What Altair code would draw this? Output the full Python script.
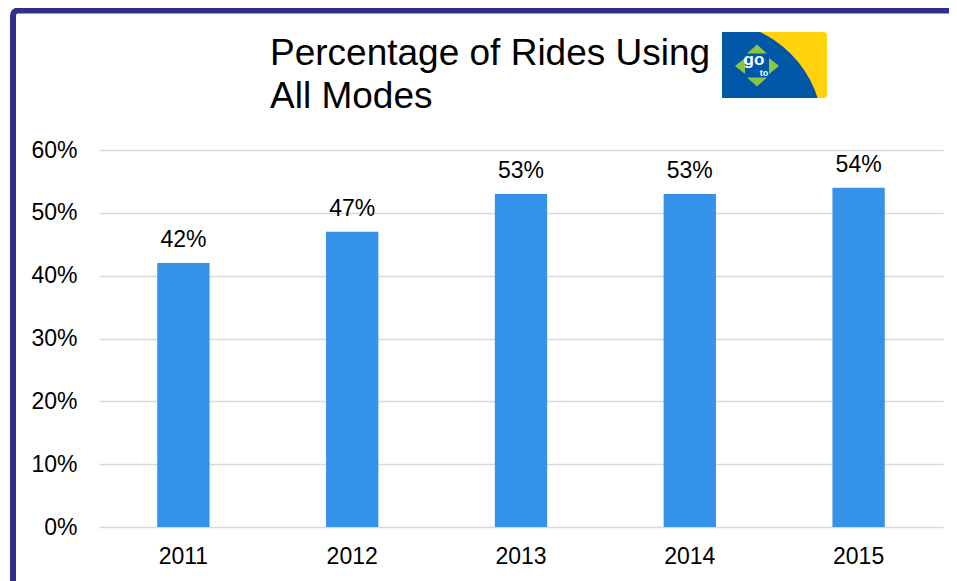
import altair as alt
import pandas as pd

years = ["2011", "2012", "2013", "2014", "2015"]
shares = [0.42, 0.47, 0.53, 0.53, 0.54]
bar_labels = ["42%", "47%", "53%", "53%", "54%"]
y_tick_values = [0.0, 0.1, 0.2, 0.3, 0.4, 0.5, 0.6]
title_lines = ["Percentage of Rides Using", "All Modes"]

FONT = "Liberation Sans"
W, H = 844, 377

df = pd.DataFrame({"year": years, "share": shares, "label": bar_labels})
one = pd.DataFrame({"k": [0]})

x_enc = alt.X(
    "year:N",
    sort=years,
    scale=alt.Scale(paddingInner=0.69, paddingOuter=0.345),
    axis=alt.Axis(title=None, labelAngle=0, labelFontSize=23, labelFont=FONT,
                  labelColor="black", labelPadding=18, ticks=False, domain=False,
                  grid=False),
)
y_enc = alt.Y(
    "share:Q",
    scale=alt.Scale(domain=[0, 0.6], nice=False),
    axis=alt.Axis(title=None, values=y_tick_values, format=".0%", labelFontSize=23,
                  labelFont=FONT, labelColor="black", labelPadding=22, ticks=False,
                  domain=False, grid=True, gridColor="#D9D9D9", gridWidth=1.5),
)

base = alt.Chart(df)
bars = base.mark_bar(color="#3492E8").encode(x=x_enc, y=y_enc)
texts = base.mark_text(dy=-16, baseline="alphabetic", fontSize=23, font=FONT,
                       color="black").encode(x=x_enc, y=y_enc, text="label:N")

# decorations
border = alt.Chart(one).mark_rect(fillOpacity=0, stroke="#2D3091", strokeWidth=6,
                                  cornerRadius=5).encode(
    x=alt.value(-86), x2=alt.value(1400), y=alt.value(-139.5), y2=alt.value(1000))

card = alt.Chart(one).mark_rect(color="#FFD20A", cornerRadius=3).encode(
    x=alt.value(623), x2=alt.value(728), y=alt.value(-118), y2=alt.value(-52))
blue = alt.Chart(one).mark_arc(color="#0057A8", theta=0, theta2=1.5708,
                               radius=111).encode(x=alt.value(613), y=alt.value(-18))
cover1 = alt.Chart(one).mark_rect(color="white").encode(
    x=alt.value(590), x2=alt.value(745), y=alt.value(-136), y2=alt.value(-118))
cover2 = alt.Chart(one).mark_rect(color="white").encode(
    x=alt.value(590), x2=alt.value(623), y=alt.value(-136), y2=alt.value(-8))
cover3 = alt.Chart(one).mark_rect(color="white").encode(
    x=alt.value(590), x2=alt.value(745), y=alt.value(-52), y2=alt.value(-8))

green = "#8CC63F"
tri_up = alt.Chart(one).mark_point(shape="M -1 0.45 L 0 -0.45 L 1 0.45 Z", filled=True,
                                   size=400, color=green, opacity=1).encode(
    x=alt.value(658), y=alt.value(-101))
tri_down = alt.Chart(one).mark_point(shape="M -1 -0.45 L 0 0.45 L 1 -0.45 Z", filled=True,
                                     size=400, color=green, opacity=1).encode(
    x=alt.value(658), y=alt.value(-68))
tri_left = alt.Chart(one).mark_point(shape="M 0.5 -0.8 L -0.5 0 L 0.5 0.8 Z", filled=True,
                                     size=400, color=green, opacity=1).encode(
    x=alt.value(641), y=alt.value(-84))
tri_right = alt.Chart(one).mark_point(shape="M -0.5 -0.8 L 0.5 0 L -0.5 0.8 Z", filled=True,
                                      size=400, color=green, opacity=1).encode(
    x=alt.value(675), y=alt.value(-84))
go_txt = alt.Chart(one).mark_text(text="go", font=FONT, fontSize=17, fontWeight="bold",
                                  color="white", baseline="alphabetic", align="center").encode(
    x=alt.value(655), y=alt.value(-85))
to_txt = alt.Chart(one).mark_text(text="to", font=FONT, fontSize=9, fontWeight="bold",
                                  color="white", baseline="alphabetic", align="center").encode(
    x=alt.value(665), y=alt.value(-74))

title1 = alt.Chart(one).mark_text(text=title_lines[0], font=FONT, fontSize=37, color="black",
                                  align="left", baseline="alphabetic").encode(
    x=alt.value(171), y=alt.value(-85))
title2 = alt.Chart(one).mark_text(text=title_lines[1], font=FONT, fontSize=37, color="black",
                                  align="left", baseline="alphabetic").encode(
    x=alt.value(171), y=alt.value(-42))

chart = alt.layer(
    bars, texts, border, card, blue, cover1, cover2, cover3,
    tri_up, tri_down, tri_left, tri_right, go_txt, to_txt, title1, title2,
).properties(
    width=W, height=H,
    autosize=alt.AutoSizeParams(type="none"),
    padding={"left": 91, "top": 142, "right": 6, "bottom": 54},
    background="white",
).configure_view(stroke=None)

chart.save("out.html", embed_options={"renderer": "svg", "actions": False})
